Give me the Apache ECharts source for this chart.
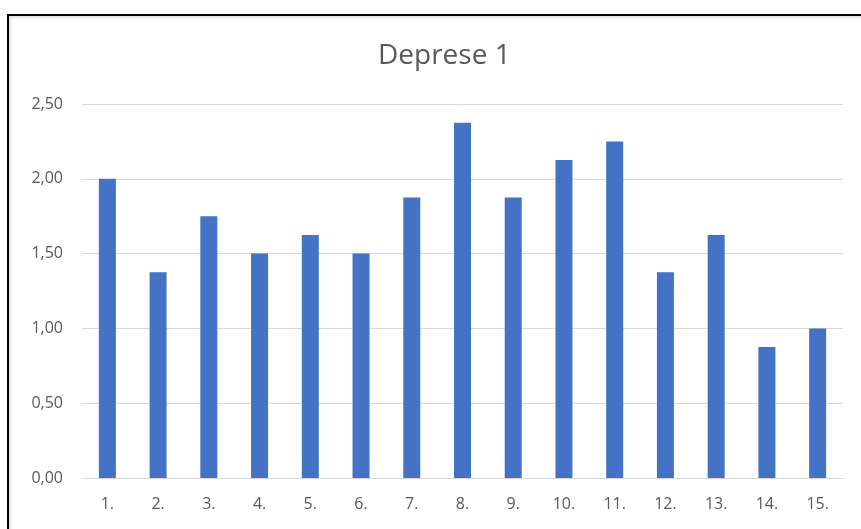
<!DOCTYPE html>
<html><head><meta charset="utf-8">
<script src="https://cdn.jsdelivr.net/npm/echarts@6/dist/echarts.min.js"></script>
<style>
html,body{margin:0;padding:0;width:861px;height:529px;overflow:hidden;background:#fff;}
#c{position:absolute;left:0;top:0;width:861px;height:529px;}
#frame{position:absolute;left:7px;top:14px;width:900px;height:600px;border-left:2px solid #000;border-top:2px solid #000;box-shadow:inset 2px 2px 3px rgba(0,0,0,0.12);pointer-events:none;}
</style></head>
<body>
<div id="c"></div>
<div id="frame"></div>
<script>
const categories = ['1.','2.','3.','4.','5.','6.','7.','8.','9.','10.','11.','12.','13.','14.','15.'];
const values = [2.0,1.375,1.75,1.5,1.625,1.5,1.875,2.375,1.875,2.125,2.25,1.375,1.625,0.875,1.0];
const titleText = 'Deprese 1';
const chart = echarts.init(document.getElementById('c'));
chart.setOption({
  animation:false,
  title:{text:titleText,left:373,top:37,textStyle:{fontFamily:'Open Sans',fontSize:28,fontWeight:'normal',color:'#595959'}},
  grid:{left:82,right:18,top:104,bottom:51},
  xAxis:{type:'category',data:categories,axisTick:{show:false},
    axisLine:{lineStyle:{color:'#d9d9d9',width:1}},
    axisLabel:{margin:18,fontFamily:'Open Sans',fontSize:16,color:'#595959'}},
  yAxis:{type:'value',min:0,max:2.5,interval:0.5,
    axisLine:{show:false},axisTick:{show:false},
    splitLine:{lineStyle:{color:'#d9d9d9',width:1}},
    axisLabel:{margin:19,fontFamily:'Open Sans',fontSize:16,color:'#595959',formatter:v=>v.toFixed(2).replace('.',',')}},
  series:[{type:'bar',data:values,barWidth:17,itemStyle:{color:'#4472C4'}}]
});
</script>
</body></html>
